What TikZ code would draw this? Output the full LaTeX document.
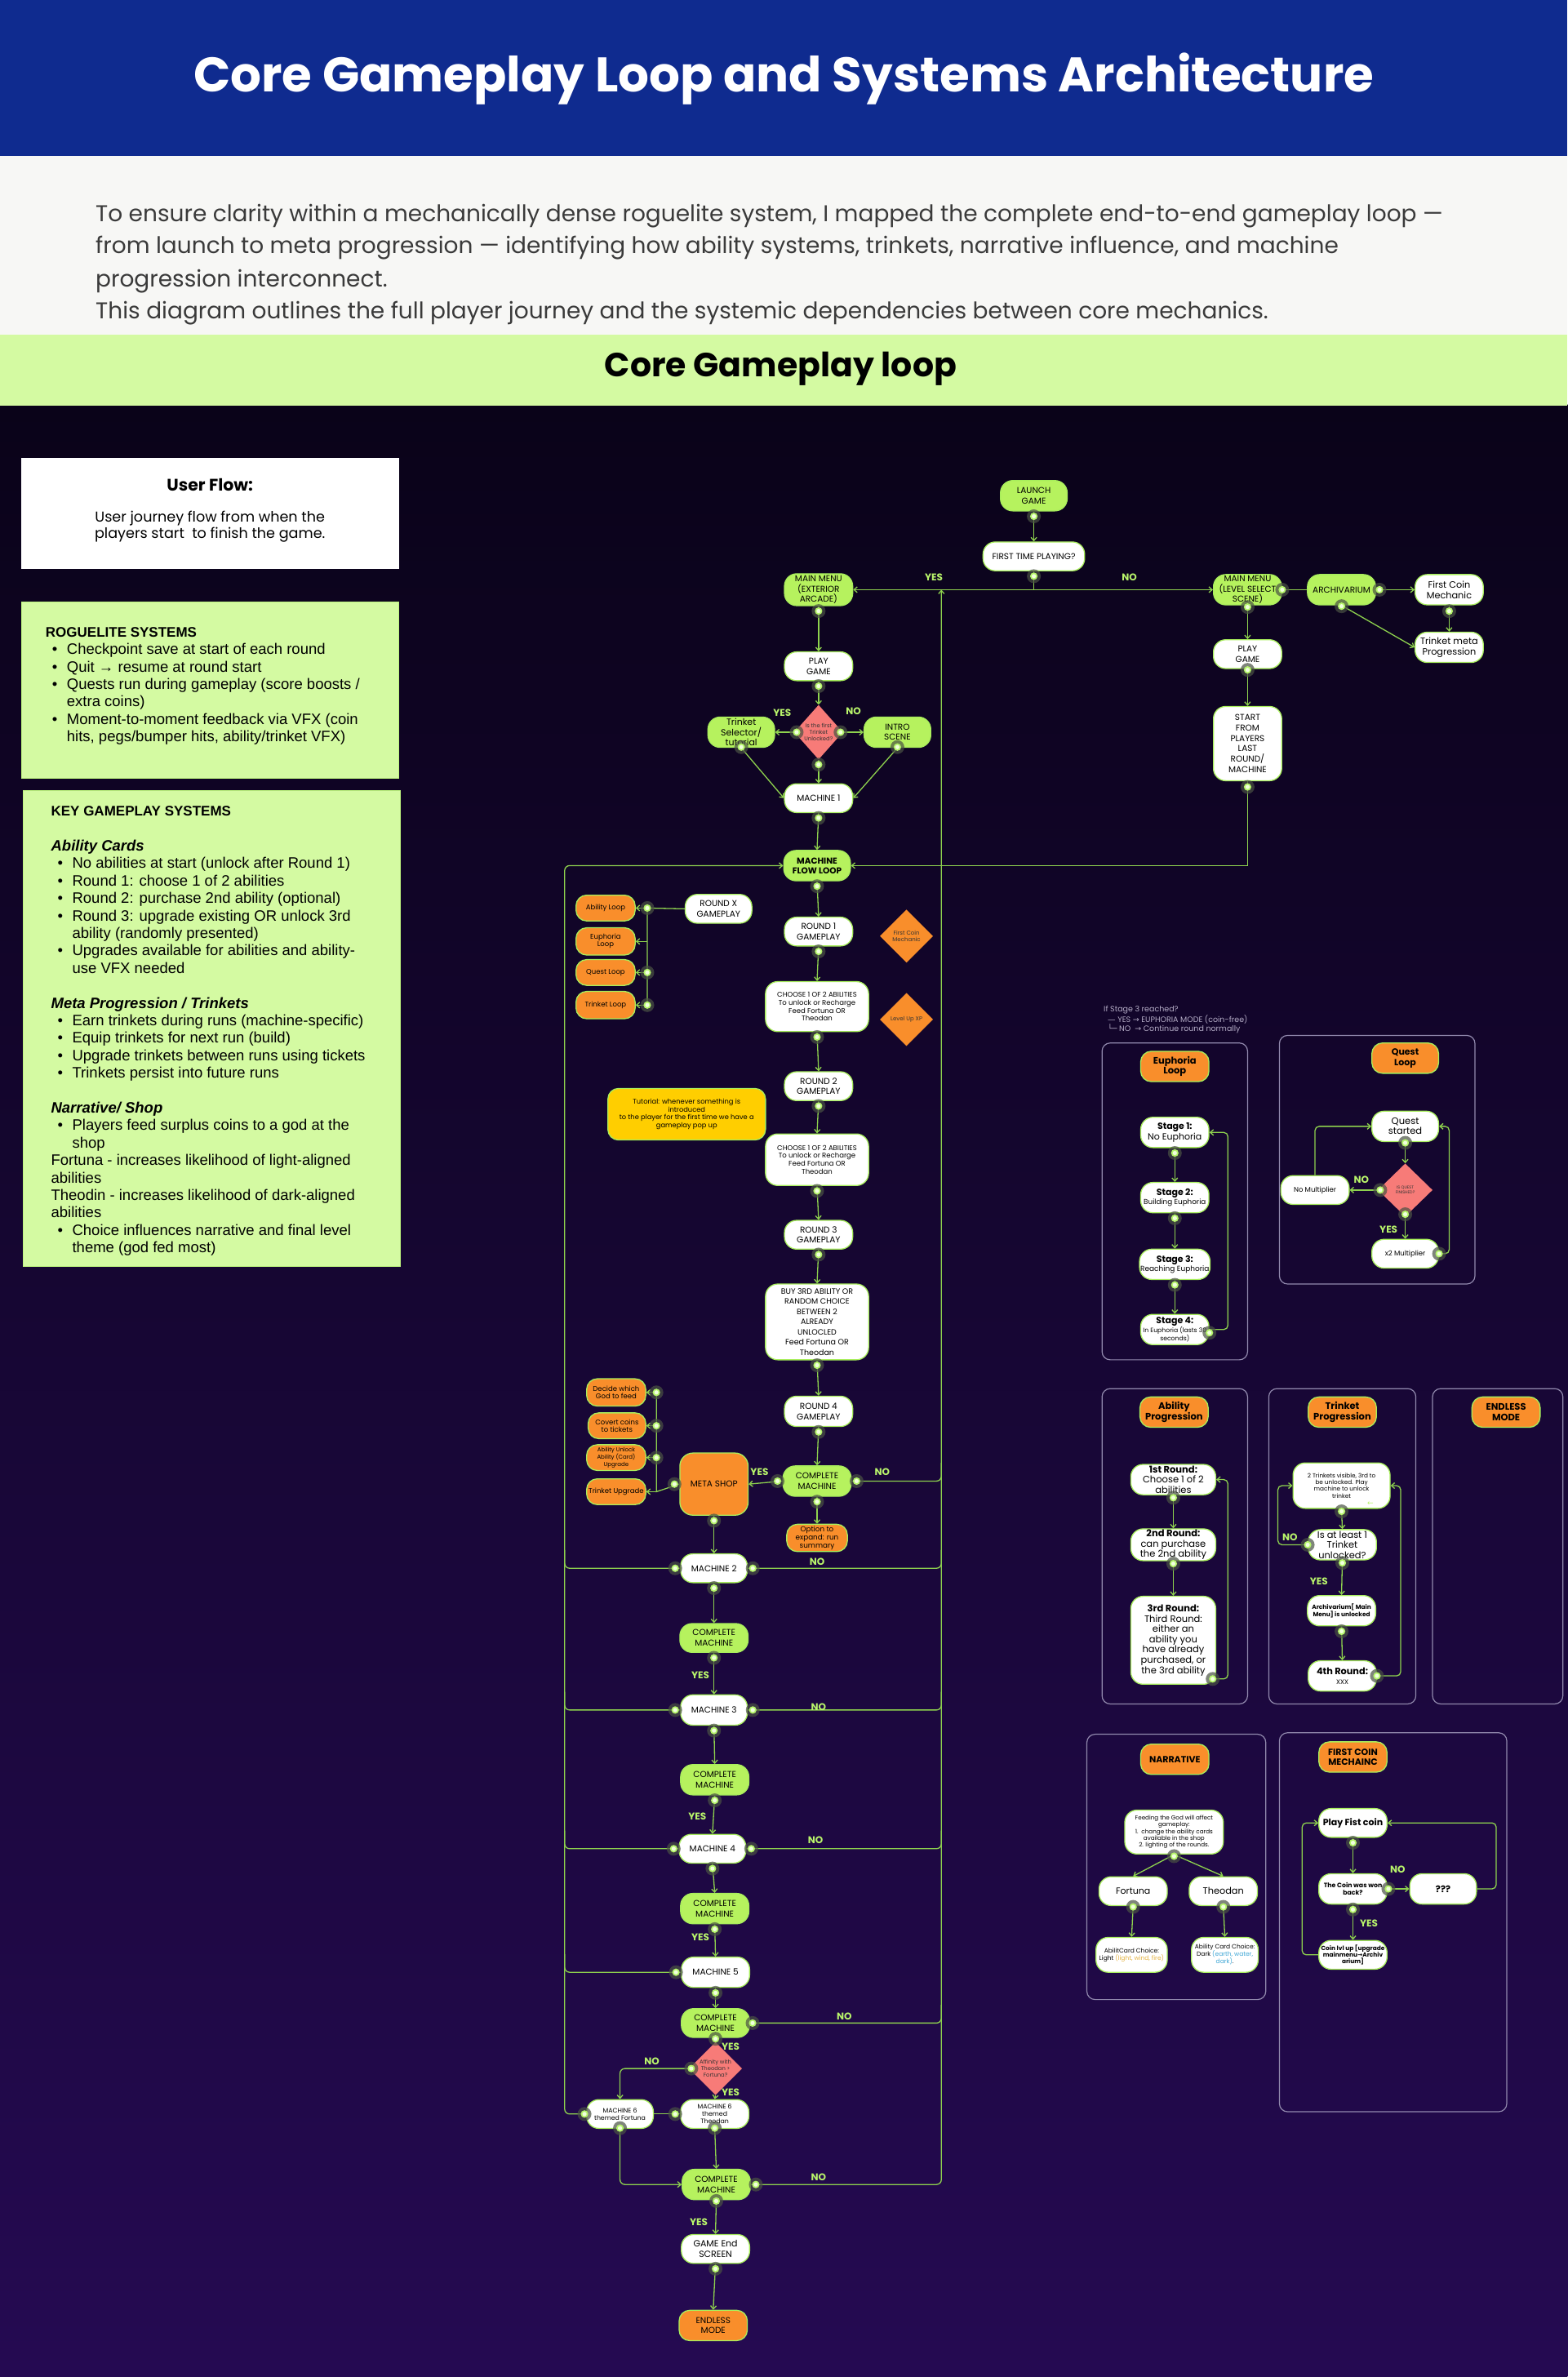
\documentclass[tikz,border=0pt]{standalone}
\usepackage{fontspec}
\setmainfont{Poppins}
\newfontfamily\djv{DejaVu Sans}
\newfontfamily\lsans{Liberation Sans}
\usetikzlibrary{arrows.meta,shapes.geometric,calc}
\newlength\ovu
\setlength\ovu{1.857pt}
\newcommand\fs[2]{\fontsize{#1}{#2}\selectfont}
\definecolor{hdrblue}{HTML}{0F2B8F}
\definecolor{introgray}{HTML}{F7F7F5}
\definecolor{bandgreen}{HTML}{D4FAA2}
\definecolor{ngreen}{HTML}{B6F25E}
\definecolor{ogreen}{HTML}{A8EE5C}
\definecolor{lgreen}{HTML}{8ED24E}
\definecolor{norange}{HTML}{F98E2B}
\definecolor{salmon}{HTML}{F77B78}
\definecolor{tyellow}{HTML}{FFCE00}
\definecolor{panelc}{HTML}{928AAE}
\definecolor{bgtop}{HTML}{0A0319}
\definecolor{bgbot}{HTML}{250A52}
\definecolor{labg}{HTML}{B9F56B}
\definecolor{introtext}{HTML}{3A3A3A}
\definecolor{halo}{HTML}{4A5244}
\definecolor{dotring}{HTML}{B5F56A}
\definecolor{dotcore}{HTML}{F0FFDE}
\definecolor{annot}{HTML}{B4ACC6}
\definecolor{goldtxt}{HTML}{E3B341}
\definecolor{bluetxt}{HTML}{3FA7D6}
\newcommand\pdot[1]{\fill[halo,opacity=0.7] #1 circle (8.5pt);\fill[dotring] #1 circle (4.6pt);\fill[dotcore] #1 circle (2.6pt);}
\newcommand\lbul{\hspace*{8pt}\makebox[18pt][l]{\textbullet}}
\newcommand\lcont{\hspace*{26pt}}
\tikzset{
  sz/.style 2 args={minimum width=#1\ovu, minimum height=#2\ovu},
  nbox/.style={draw=ogreen, line width=1.3pt, rounded corners=15pt, align=center, inner sep=1pt, text=black, font=\fs{10.5}{12.5}},
  wbox/.style={nbox, fill=white},
  gbox/.style={nbox, fill=ngreen},
  obox/.style={nbox, fill=norange, rounded corners=13pt},
  sdia/.style={diamond, fill=salmon, inner sep=0pt, align=center, text=black!80, font=\fs{6.8}{8.3}},
  odia/.style={diamond, fill=norange, inner sep=0pt, align=center, text=black!80, font=\fs{7}{8.5}},
  conn/.style={draw=lgreen, line width=1.3pt},
  arr/.style={conn, -{Straight Barb[length=4pt,width=7pt]}},
  jn/.style={conn, rounded corners=6pt},
  panel/.style={draw=panelc, line width=1.2pt, rounded corners=10pt},
  lab/.style={text=labg, font=\bfseries\fs{12}{14}},
  ttl/.style={obox, font=\bfseries\fs{11.5}{12.7}},
  introline/.style={anchor=base west, inner sep=0pt, text=introtext, font=\fs{28}{33}},
}
\begin{document}
\begin{tikzpicture}[x=1.857pt,y=-1.857pt]
\useasboundingbox (0,0) rectangle (1034,1568);
\shade[top color=bgtop, bottom color=bgbot] (0,267) rectangle (1034,1568);
\fill[hdrblue] (0,0) rectangle (1034,103);
\fill[introgray] (0,103) rectangle (1034,221);
\fill[bandgreen] (0,221) rectangle (1034,267.5);

% ---------- header texts
\node[text=white, font=\bfseries\fs{59.5}{66}] (title) at (517,52) {Core Gameplay Loop and Systems Architecture};
\node[introline] (in1) at (63,146) {To ensure clarity within a mechanically dense roguelite system, I mapped the complete end-to-end gameplay loop —};
\node[introline] (in2) at (63,167) {from launch to meta progression — identifying how ability systems, trinkets, narrative influence, and machine};
\node[introline] (in3) at (63,189) {progression interconnect.};
\node[introline] (in4) at (63,210) {This diagram outlines the full player journey and the systemic dependencies between core mechanics.};
\node[font=\bfseries\fs{41}{47}] (cgl) at (515,243) {Core Gameplay loop};

% ---------- left panels
\node[fill=white, minimum width=249\ovu, minimum height=73\ovu, anchor=north west, inner sep=0pt] (ufbox) at (14,302) {};
\node[font=\bfseries\fs{20.5}{24}] (uft) at (138.5,320) {User Flow:};
\node[align=center, font=\fs{17.6}{20.4}] (ufs) at (138.5,347.5) {User journey flow from when the\\players start\ \ to finish the game.};

\node[fill=bandgreen, draw=ogreen!50!bandgreen, line width=0.8pt, minimum width=249\ovu, minimum height=116\ovu, anchor=north west, inner sep=0pt] (rgbox) at (14,397) {};
\node[anchor=north west, align=left, inner sep=0pt, font=\lsans\fs{18.5}{21.4}] (rgtxt) at (30,413.6) {{\bfseries\fs{17}{21.4}ROGUELITE SYSTEMS}\\
\lbul Checkpoint save at start of each round\\
\lbul Quit → resume at round start\\
\lbul Quests run during gameplay (score boosts /\\
\lcont extra coins)\\
\lbul Moment-to-moment feedback via VFX (coin\\
\lcont hits, pegs/bumper hits, ability/trinket VFX)};

\node[fill=bandgreen, draw=ogreen!50!bandgreen, line width=0.8pt, minimum width=249\ovu, minimum height=314\ovu, anchor=north west, inner sep=0pt] (kgbox) at (15,521) {};
\node[anchor=north west, align=left, inner sep=0pt, font=\lsans\fs{18.5}{21.4}] (kgtxt) at (33.6,531.8) {{\bfseries\fs{17}{21.4}KEY GAMEPLAY SYSTEMS}\\
\mbox{}\\
{\bfseries\itshape Ability Cards}\\
\lbul No abilities at start (unlock after Round 1)\\
\lbul Round 1: choose 1 of 2 abilities\\
\lbul Round 2: purchase 2nd ability (optional)\\
\lbul Round 3: upgrade existing OR unlock 3rd\\
\lcont ability (randomly presented)\\
\lbul Upgrades available for abilities and ability-\\
\lcont use VFX needed\\
\mbox{}\\
{\bfseries\itshape Meta Progression / Trinkets}\\
\lbul Earn trinkets during runs (machine-specific)\\
\lbul Equip trinkets for next run (build)\\
\lbul Upgrade trinkets between runs using tickets\\
\lbul Trinkets persist into future runs\\
\mbox{}\\
{\bfseries\itshape Narrative/ Shop}\\
\lbul Players feed surplus coins to a god at the\\
\lcont shop\\
Fortuna - increases likelihood of light-aligned\\
abilities\\
Theodin - increases likelihood of dark-aligned\\
abilities\\
\lbul Choice influences narrative and final level\\
\lcont theme (god fed most)};

% ---------- right-side panels frames
\draw[panel] (727,688) rectangle (823,897);
\draw[panel] (844,683) rectangle (973,847);
\draw[panel] (727,916) rectangle (823,1124);
\draw[panel] (837,916) rectangle (934,1124);
\draw[panel] (945,916) rectangle (1031,1124);
\draw[panel] (717,1144) rectangle (835,1319);
\draw[panel] (844,1143) rectangle (994,1393);

% ---------- main flow nodes
\node[gbox, sz={44}{20}] (launch) at (682,327) {LAUNCH\\GAME};
\node[wbox, sz={67}{19}] (first) at (682,367) {FIRST TIME PLAYING?};
\node[gbox, sz={45}{21}, font=\fs{10.5}{12.3}] (mmext) at (540,389) {MAIN MENU\\(EXTERIOR\\ARCADE)};
\node[gbox, sz={45}{20}, font=\fs{10.5}{12.3}] (mmls) at (823,389) {MAIN MENU\\(LEVEL SELECT\\SCENE)};
\node[gbox, sz={45}{20}] (archi) at (885,389) {ARCHIVARIUM};
\node[wbox, sz={45}{20}, font=\fs{11.3}{12.7}] (fcm) at (956,389) {First Coin\\Mechanic};
\node[wbox, sz={45}{20}, font=\fs{11.3}{12.7}] (tmp) at (956,427) {Trinket meta\\Progression};
\node[wbox, sz={45}{19}, font=\fs{10.5}{12.3}] (playr) at (823,431.5) {PLAY\\GAME};
\node[wbox, sz={45}{49}, font=\fs{10.5}{12.7}] (start) at (823,490.5) {START\\FROM\\PLAYERS\\LAST\\ROUND/\\MACHINE};
\node[wbox, sz={45}{19}, font=\fs{10.5}{12.3}] (playl) at (540,439.5) {PLAY\\GAME};
\node[sdia, minimum width=32\ovu, minimum height=36\ovu] (dia1) at (540,483) {Is the first\\Trinket\\Unlocked?};
\node[gbox, sz={44}{20}, font=\fs{11}{12.5}] (trsel) at (489,483) {Trinket\\Selector/\\tutorial};
\node[gbox, sz={44}{20}] (intro) at (592,483) {INTRO\\SCENE};
\node[wbox, sz={45}{19}] (m1) at (540,526.5) {MACHINE 1};
\node[gbox, sz={44}{20}, font=\bfseries\fs{10.5}{12}] (mfl) at (539,571) {MACHINE\\FLOW LOOP};
\node[wbox, sz={45}{19}] (r1) at (540,614.5) {ROUND 1\\GAMEPLAY};
\node[odia, minimum width=35\ovu, minimum height=35\ovu] (fcd) at (598,617.5) {First Coin\\Mechanic};
\node[wbox, sz={68}{33}, font=\fs{8.5}{9.8}] (ch1) at (539,664) {CHOOSE 1 OF 2 ABILITIES\\To unlock or Recharge\\Feed Fortuna OR\\Theodan};
\node[odia, minimum width=35\ovu, minimum height=35\ovu] (lux) at (598,672.5) {Level Up XP};
\node[wbox, sz={45}{19}] (r2) at (540,716.5) {ROUND 2\\GAMEPLAY};
\node[nbox, fill=tyellow, sz={104}{34}, font=\fs{8.3}{9.8}, rounded corners=13pt] (tut) at (453,735) {Tutorial: whenever something is\\introduced\\to the player for the first time we have a\\gameplay pop up};
\node[wbox, sz={68}{34}, font=\fs{8.5}{9.8}] (ch2) at (539,765) {CHOOSE 1 OF 2 ABILITIES\\To unlock or Recharge\\Feed Fortuna OR\\Theodan};
\node[wbox, sz={45}{19}] (r3) at (540,814.5) {ROUND 3\\GAMEPLAY};
\node[wbox, sz={68}{50}, font=\fs{9.5}{12.5}] (buy) at (539,872) {BUY 3RD ABILITY OR\\RANDOM CHOICE\\BETWEEN 2\\ALREADY\\UNLOCLED\\Feed Fortuna OR\\Theodan};
\node[wbox, sz={45}{20}] (r4) at (540,931) {ROUND 4\\GAMEPLAY};
\node[gbox, sz={45}{20}, font=\fs{10.5}{12.7}] (cm1) at (539,977) {COMPLETE\\MACHINE};
\node[obox, sz={45}{41}, rounded corners=16pt] (shop) at (471,979) {META SHOP};
\node[obox, sz={40}{18}, font=\fs{8.8}{9.7}] (opt) at (539,1014.5) {Option to\\expand: run\\summary};
\node[wbox, sz={44}{19}] (rx) at (474,599.5) {ROUND X\\GAMEPLAY};
\node[obox, sz={39}{17}, font=\fs{8.5}{9}] (abl) at (399.5,599) {Ability Loop};
\node[obox, sz={39}{18}, font=\fs{8.5}{9}] (eul) at (399.5,621) {Euphoria\\Loop};
\node[obox, sz={39}{17}, font=\fs{8.5}{9}] (qul) at (399.5,641.5) {Quest Loop};
\node[obox, sz={39}{18}, font=\fs{8.5}{9}] (trl) at (399.5,663) {Trinket Loop};
\node[obox, sz={39}{18}, font=\fs{8.5}{9.7}] (dec) at (406.5,918.5) {Decide which\\God to feed};
\node[obox, sz={38}{17}, font=\fs{8.5}{9.7}] (cov) at (407,940.5) {Covert coins\\to tickets};
\node[obox, sz={39}{17}, font=\fs{7}{8.3}] (auu) at (406.5,961.5) {Ability Unlock\\Ability (Card)\\Upgrade};
\node[obox, sz={39}{17}, font=\fs{8.5}{9}] (tup) at (406.5,984) {Trinket Upgrade};
\node[wbox, sz={44}{19}] (m2) at (471,1034.5) {MACHINE 2};
\node[gbox, sz={45}{19}, font=\fs{10.5}{12.7}] (cm2) at (471,1080.5) {COMPLETE\\MACHINE};
\node[wbox, sz={44}{20}] (m3) at (471,1128) {MACHINE 3};
\node[gbox, sz={45}{20}, font=\fs{10.5}{12.7}] (cm3) at (471.5,1174) {COMPLETE\\MACHINE};
\node[wbox, sz={44}{19}] (m4) at (470,1219.5) {MACHINE 4};
\node[gbox, sz={45}{20}, font=\fs{10.5}{12.7}] (cm4) at (471.5,1259) {COMPLETE\\MACHINE};
\node[wbox, sz={45}{20}] (m5) at (472,1301) {MACHINE 5};
\node[gbox, sz={45}{19}, font=\fs{10.5}{12.7}] (cm5) at (472,1334.5) {COMPLETE\\MACHINE};
\node[sdia, minimum width=35\ovu, minimum height=35\ovu] (dia2) at (472,1364.5) {Affinity with\\Theodan >\\Fortuna?};
\node[wbox, sz={44}{19}, font=\fs{7.8}{8.7}] (m6f) at (409,1394.5) {MACHINE 6\\themed Fortuna};
\node[wbox, sz={45}{19}, font=\fs{7.8}{8.7}] (m6t) at (471.5,1394.5) {MACHINE 6\\themed\\Theodan};
\node[gbox, sz={45}{20}, font=\fs{10.5}{12.7}] (cm6) at (472.5,1441) {COMPLETE\\MACHINE};
\node[wbox, sz={45}{19}, font=\fs{11}{13}] (gend) at (472,1483.5) {GAME End\\SCREEN};
\node[obox, sz={45}{20}, font=\fs{10.5}{12.7}] (endl) at (470.5,1534) {ENDLESS\\MODE};

% ---------- main flow connectors
\coordinate (lx) at (372.5,0);
\coordinate (rx0) at (621,0);
\coordinate (rvt) at (621,389);
\draw[arr] (launch.south) -- (first.north);
\draw[arr] (first.south) |- (mmext.east);
\draw[arr] (first.south) |- (mmls.west);
\draw[conn] (mmls.east) -- (archi.west);
\draw[arr] (archi.east) -- (fcm.west);
\draw[arr] (fcm.south) -- (tmp.north);
\draw[arr] (archi.south) -- (tmp.west);
\draw[arr] (mmls.south) -- (playr.north);
\draw[arr] (playr.south) -- (start.north);
\draw[arr] (start.south) |- (mfl.east);
\draw[arr] (mmext.south) -- (playl.north);
\draw[arr] (playl.south) -- (dia1.north);
\draw[arr] (dia1.west) -- (trsel.east);
\draw[arr] (dia1.east) -- (intro.west);
\draw[arr] (dia1.south) -- (m1.north);
\draw[arr] (trsel.south) -- (m1.west);
\draw[arr] (intro.south) -- (m1.east);
\draw[arr] (m1.south) -- (mfl.north);
\draw[arr] (mfl.south) -- (r1.north);
\draw[arr] (r1.south) -- (ch1.north);
\draw[arr] (ch1.south) -- (r2.north);
\draw[arr] (r2.south) -- (ch2.north);
\draw[arr] (ch2.south) -- (r3.north);
\draw[arr] (r3.south) -- (buy.north);
\draw[arr] (buy.south) -- (r4.north);
\draw[arr] (r4.south) -- (cm1.north);
\draw[arr] (cm1.west) -- (shop.east);
\draw[arr] (cm1.south) -- (opt.north);
\draw[arr] (shop.south) -- (m2.north);
% round X bracket
\coordinate (rb0) at (427,599);
\coordinate (rb1) at (427,621);
\coordinate (rb2) at (427,641.5);
\coordinate (rb3) at (427,663);
\draw[conn] (rx.west) -- (rb0) -- (rb3);
\draw[arr] (rb0) -- (abl.east);
\draw[arr] (rb1) -- (eul.east);
\draw[arr] (rb2) -- (qul.east);
\draw[arr] (rb3) -- (trl.east);
% shop bracket
\coordinate (sb0) at (433,984);
\coordinate (sb1) at (433,918.5);
\coordinate (sb2) at (433,940.5);
\coordinate (sb3) at (433,961.5);
\draw[conn] (shop.west) -- (sb0) -- (sb1);
\draw[arr] (sb0) -- (tup.east);
\draw[arr] (sb1) -- (dec.east);
\draw[arr] (sb2) -- (cov.east);
\draw[arr] (sb3) -- (auu.east);
% machines
\draw[arr] (m2.south) -- (cm2.north);
\draw[arr] (cm2.south) -- (m3.north);
\draw[arr] (m3.south) -- (cm3.north);
\draw[arr] (cm3.south) -- (m4.north);
\draw[arr] (m4.south) -- (cm4.north);
\draw[arr] (cm4.south) -- (m5.north);
\draw[arr] (m5.south) -- (cm5.north);
\draw[arr] (cm5.south) -- (dia2.north);
\draw[arr, rounded corners=6pt] (dia2.west) -| (m6f.north);
\draw[arr] (dia2.south) -- (m6t.north);
\draw[conn] (m6f.east) -- (m6t.west);
\draw[arr, rounded corners=6pt] (m6f.south) |- (cm6.west);
\draw[arr] (m6t.south) -- (cm6.north);
\draw[arr] (cm6.south) -- (gend.north);
\draw[arr] (gend.south) -- (endl.north);
% left return line
\draw[arr, rounded corners=6pt] (m6f.west) -| (lx |- mfl.west) -- (mfl.west);
\draw[jn] (m2.west) -| ($(lx |- m2.west)+(0,-12)$);
\draw[jn] (m3.west) -| ($(lx |- m3.west)+(0,-12)$);
\draw[jn] (m4.west) -| ($(lx |- m4.west)+(0,-12)$);
\draw[jn] (m5.west) -| ($(lx |- m5.west)+(0,-12)$);
% right return line
\draw[arr, rounded corners=6pt] (cm6.east) -| (rvt);
\draw[jn] (cm1.east) -| ($(rx0 |- cm1.east)+(0,-12)$);
\draw[jn] (m2.east) -| ($(rx0 |- m2.east)+(0,-12)$);
\draw[jn] (m3.east) -| ($(rx0 |- m3.east)+(0,-12)$);
\draw[jn] (m4.east) -| ($(rx0 |- m4.east)+(0,-12)$);
\draw[jn] (cm5.east) -| ($(rx0 |- cm5.east)+(0,-12)$);

% ---------- right panels content
\node[anchor=north west, align=left, inner sep=0pt, text=annot, font=\fs{9.5}{10.2}] (annot) at (728,663.5) {If Stage 3 reached?\\\hspace*{5pt}{\djv —} YES {\djv →} EUPHORIA MODE (coin-free)\\\hspace*{5pt}{\djv └─} NO\ \ {\djv →} Continue round normally};
% euphoria
\node[ttl, sz={45}{20}] (eutitle) at (775,703.5) {Euphoria\\Loop};
\node[wbox, sz={45}{20}, font=\fs{11}{12.3}] (st1) at (775,747) {\textbf{Stage 1:}\\No Euphoria};
\node[wbox, sz={45}{20}, font=\fs{8.8}{11.5}] (st2) at (775,790) {{\bfseries\fs{11}{12.3}Stage 2:}\\Building Euphoria};
\node[wbox, sz={45}{20}, font=\fs{9}{11.5}] (st3) at (775,834) {{\bfseries\fs{11}{12.3}Stage 3:}\\Reaching Euphoria};
\node[wbox, sz={45}{20}, font=\fs{7.7}{9.2}] (st4) at (775,877) {{\bfseries\fs{11}{12.3}Stage 4:}\\In Euphoria (lasts 30\\seconds)};
\draw[arr] (st1.south) -- (st2.north);
\draw[arr] (st2.south) -- (st3.north);
\draw[arr] (st3.south) -- (st4.north);
\draw[arr, rounded corners=5pt] (st4.east) -| (810,747) -- (st1.east);
% quest
\node[ttl, sz={44}{20}, font=\bfseries\fs{11}{12.7}] (qtitle) at (927,698) {Quest\\Loop};
\node[wbox, sz={44}{20}, font=\fs{11.5}{12.2}] (qs) at (927,743) {Quest\\started};
\node[sdia, minimum width=36\ovu, minimum height=35\ovu, font=\fs{5}{6.5}] (qd) at (927,785) {IS QUEST\\FINISHED?};
\node[wbox, sz={45}{19}, font=\fs{8.5}{10}] (nomul) at (867.5,785) {No Multiplier};
\node[wbox, sz={44}{19}, font=\fs{8.5}{10}] (x2) at (927,827) {x2 Multiplier};
\draw[arr] (qs.south) -- (qd.north);
\draw[arr] (qd.west) -- (nomul.east);
\draw[arr] (qd.south) -- (x2.north);
\draw[arr, rounded corners=5pt] (nomul.north) |- (qs.west);
\draw[arr, rounded corners=5pt] (x2.east) -| (956,743) -- (qs.east);
% ability progression
\node[ttl, sz={45}{20}] (aptitle) at (774.5,931.5) {Ability\\Progression};
\node[wbox, sz={56}{20}, font=\fs{11.5}{12.7}] (ar1) at (774,976) {\textbf{1st Round:}\\Choose 1 of 2\\abilities};
\node[wbox, sz={56}{20}, font=\fs{11.5}{12.7}] (ar2) at (774,1019) {\textbf{2nd Round:}\\can purchase\\the 2nd ability};
\node[wbox, sz={56}{58}, font=\fs{11.5}{12.6}] (ar3) at (774,1082) {\textbf{3rd Round:}\\Third Round:\\either an\\ability you\\have already\\purchased, or\\the 3rd ability};
\coordinate (ar3o) at (800,1107.5);
\draw[arr] (ar1.south) -- (ar2.north);
\draw[arr] (ar2.south) -- (ar3.north);
\draw[arr, rounded corners=5pt] (ar3o) -| (810,976) -- (ar1.east);
% trinket progression
\node[ttl, sz={45}{20}] (tptitle) at (885.5,931.5) {Trinket\\Progression};
\node[wbox, sz={64}{30}, font=\fs{7.3}{8.4}] (tr1) at (885,980) {2 Trinkets visible, 3rd to\\be unlocked. Play\\machine to unlock\\trinket};
\node[text=labg, font=\djv\fs{9}{9}, inner sep=0pt] (tarw) at (904,992) {←};
\node[wbox, sz={45}{20}, font=\fs{11.4}{12.6}] (tr2) at (885.5,1019) {Is at least 1\\Trinket\\unlocked?};
\node[wbox, sz={45}{20}, font=\bfseries\fs{7.4}{8.2}] (tr3) at (885,1062.5) {Archivarium[ Main\\Menu] is unlocked};
\node[wbox, sz={45}{20}, font=\fs{8}{11.5}] (tr4) at (885.5,1105.5) {{\bfseries\fs{11.3}{12.5}4th Round:}\\XXX};
\draw[arr] (tr1.south) -- (tr2.north);
\draw[arr] (tr2.south) -- (tr3.north);
\draw[arr] (tr3.south) -- (tr4.north);
\draw[arr, rounded corners=5pt] (tr2.west) -| (843,980) -- (tr1.west);
\draw[arr, rounded corners=5pt] (tr4.east) -| (924,980) -- (tr1.east);
% endless
\node[ttl, sz={45}{20}] (emtitle) at (993.5,931.5) {ENDLESS\\MODE};
% narrative
\node[ttl, sz={45}{20}, font=\bfseries\fs{11}{12}] (nartitle) at (775,1160.5) {NARRATIVE};
\node[wbox, sz={65}{29}, font=\fs{7.2}{8.3}] (feed) at (774.5,1208.5) {Feeding the God will affect\\gameplay:\\1.\ \ change the ability cards\\available in the shop\\2. lighting of the rounds.};
\node[wbox, sz={45}{19}, font=\fs{11}{12}] (fort) at (747.5,1247.5) {Fortuna};
\node[wbox, sz={45}{19}, font=\fs{11.3}{12}] (theo) at (807,1247.5) {Theodan};
\node[wbox, sz={47}{23}, font=\fs{7.5}{9}] (light) at (746.5,1289.5) {AbilitCard Choice:\\Light {\color{goldtxt}(light, wind, fire)}};
\node[wbox, sz={44}{23}, font=\fs{7.5}{9}] (dark) at (808,1289.5) {Ability Card Choice:\\Dark {\color{bluetxt}(earth, water,}\\{\color{bluetxt}dark)}.};
\draw[arr] (feed.south) -- (fort.north);
\draw[arr] (feed.south) -- (theo.north);
\draw[arr] (fort.south) -- (light.north);
\draw[arr] (theo.south) -- (dark.north);
% first coin
\node[ttl, sz={45}{20}, font=\bfseries\fs{11}{12.5}] (fctitle) at (892.5,1159) {FIRST COIN\\MECHAINC};
\node[wbox, sz={45}{19}, font=\bfseries\fs{11}{12}] (pfc) at (892.5,1202.5) {Play Fist coin};
\node[wbox, sz={45}{20}, font=\bfseries\fs{7.8}{9}] (wonb) at (892.5,1246) {The Coin was won\\back?};
\node[wbox, sz={44}{20}, font=\bfseries\fs{11.2}{12}] (qqq) at (952,1246) {???};
\node[wbox, sz={45}{19}, font=\bfseries\fs{7.4}{8.3}] (clu) at (892.5,1289.5) {Coin lvl up [upgrade\\mainmenu{\djv→}Archiv\\arium]};
\draw[arr] (pfc.south) -- (wonb.north);
\draw[arr] (wonb.east) -- (qqq.west);
\draw[arr] (wonb.south) -- (clu.north);
\draw[arr, rounded corners=5pt] (qqq.east) -| (987,1202.5) -- (pfc.east);
\draw[arr, rounded corners=5pt] (clu.west) -| (859,1202.5) -- (pfc.west);

% ---------- dots
\pdot{([yshift=-6pt]launch.south)}
\pdot{([yshift=-6pt]first.south)}
\pdot{([yshift=-6pt]mmext.south)}
\pdot{([yshift=-2pt]mmls.south)}
\pdot{(mmls.east)}
\pdot{([xshift=4pt]archi.east)}
\pdot{([yshift=-1pt]archi.south)}
\pdot{([yshift=-7pt]fcm.south)}
\pdot{([yshift=-1pt]playr.south)}
\pdot{([yshift=-7pt]start.south)}
\pdot{([yshift=-6pt]playl.south)}
\pdot{([xshift=3pt]dia1.west)}
\pdot{([xshift=-3pt]dia1.east)}
\pdot{([yshift=-6pt]dia1.south)}
\pdot{([yshift=1pt]trsel.south)}
\pdot{([yshift=1pt]intro.south)}
\pdot{([yshift=-6pt]m1.south)}
\pdot{([yshift=-6pt]mfl.south)}
\pdot{([yshift=-6pt]r1.south)}
\pdot{([yshift=-6pt]ch1.south)}
\pdot{([yshift=-6pt]r2.south)}
\pdot{([yshift=-6pt]ch2.south)}
\pdot{([yshift=-6pt]r3.south)}
\pdot{([yshift=-6pt]buy.south)}
\pdot{([yshift=-6pt]r4.south)}
\pdot{([xshift=-6pt]cm1.west)}
\pdot{([xshift=6pt]cm1.east)}
\pdot{([yshift=-6pt]cm1.south)}
\pdot{([xshift=-6pt]shop.west)}
\pdot{([yshift=-6pt]shop.south)}
\pdot{(rb0)}
\pdot{(rb2)}
\pdot{(rb3)}
\pdot{(sb1)}
\pdot{(sb2)}
\pdot{(sb3)}
\pdot{([xshift=-6pt]m2.west)}
\pdot{([xshift=6pt]m2.east)}
\pdot{([yshift=-6pt]m2.south)}
\pdot{([yshift=-6pt]cm2.south)}
\pdot{([xshift=-6pt]m3.west)}
\pdot{([xshift=6pt]m3.east)}
\pdot{([yshift=-6pt]m3.south)}
\pdot{([yshift=-6pt]cm3.south)}
\pdot{([xshift=-6pt]m4.west)}
\pdot{([xshift=6pt]m4.east)}
\pdot{([yshift=-6pt]m4.south)}
\pdot{([yshift=-6pt]cm4.south)}
\pdot{([xshift=-6pt]m5.west)}
\pdot{([yshift=-6pt]m5.south)}
\pdot{([xshift=3pt]cm5.east)}
\pdot{([yshift=-1pt]cm5.south)}
\pdot{([xshift=3pt]dia2.west)}
\pdot{([xshift=-2pt]m6f.west)}
\pdot{([yshift=1pt]m6f.south)}
\pdot{([xshift=-6pt]m6t.west)}
\pdot{([yshift=1pt]m6t.south)}
\pdot{([xshift=6pt]cm6.east)}
\pdot{([yshift=-1pt]cm6.south)}
\pdot{([yshift=-6pt]gend.south)}
\pdot{([yshift=-6pt]st1.south)}
\pdot{([yshift=-6pt]st2.south)}
\pdot{([yshift=-6pt]st3.south)}
\pdot{([yshift=-4pt]st4.east)}
\pdot{([yshift=-1pt]qs.south)}
\pdot{([xshift=3pt]qd.west)}
\pdot{([yshift=3pt]qd.south)}
\pdot{(x2.east)}
\pdot{([yshift=-3pt]ar1.south)}
\pdot{([yshift=-3pt]ar2.south)}
\pdot{(ar3o)}
\pdot{([yshift=-3pt]tr1.south)}
\pdot{(tr2.west)}
\pdot{([yshift=-3pt]tr2.south)}
\pdot{([yshift=-6pt]tr3.south)}
\pdot{(tr4.east)}
\pdot{([yshift=-2pt]feed.south)}
\pdot{([yshift=-1pt]fort.south)}
\pdot{([yshift=-1pt]theo.south)}
\pdot{([yshift=-6pt]pfc.south)}
\pdot{([xshift=1pt]wonb.east)}
\pdot{([yshift=-6pt]wonb.south)}

% ---------- labels
\node[lab] (l1) at (616,381) {YES};
\node[lab] (l2) at (745,381) {NO};
\node[lab] (l3) at (516,470) {YES};
\node[lab] (l4) at (563,469) {NO};
\node[lab] (l5) at (501,971) {YES};
\node[lab] (l6) at (582,971) {NO};
\node[lab] (l7) at (539,1030) {NO};
\node[lab] (l8) at (462,1105) {YES};
\node[lab] (l9) at (540,1126) {NO};
\node[lab] (l10) at (460,1198) {YES};
\node[lab] (l11) at (538,1214) {NO};
\node[lab] (l12) at (462,1278) {YES};
\node[lab] (l13) at (557,1330) {NO};
\node[lab] (l14) at (482,1350) {YES};
\node[lab] (l15) at (430,1360) {NO};
\node[lab] (l16) at (482,1380) {YES};
\node[lab] (l17) at (540,1436) {NO};
\node[lab] (l18) at (461,1466) {YES};
\node[lab] (l19) at (898,778) {NO};
\node[lab] (l20) at (916,811) {YES};
\node[lab] (l21) at (851,1014) {NO};
\node[lab] (l22) at (870,1043) {YES};
\node[lab] (l23) at (922,1233) {NO};
\node[lab] (l24) at (903,1269) {YES};
\end{tikzpicture}
\end{document}
